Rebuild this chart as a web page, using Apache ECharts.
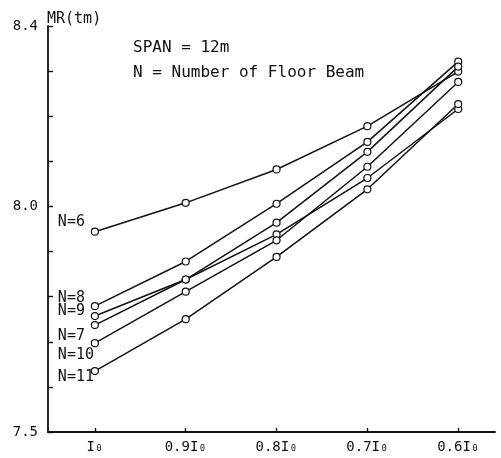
<!DOCTYPE html>
<html>
<head>
<meta charset="utf-8">
<script src="https://cdn.jsdelivr.net/npm/echarts@6/dist/echarts.min.js"></script>
<style>
html,body{margin:0;padding:0;background:#fff;}
#c{width:501px;height:458px;}
</style>
</head>
<body>
<div id="c"></div>
<script>
// ---- data ----
const categories = ['I₀', '0.9I₀', '0.8I₀', '0.7I₀', '0.6I₀'];
const xValues = [1.0, 0.9, 0.8, 0.7, 0.6];
const yShownLabels = ['7.5', '8.0', '8.4'];
const seriesNames = ['N=6', 'N=8', 'N=9', 'N=7', 'N=10', 'N=11'];
const n6  = [7.944, 8.008, 8.082, 8.178, 8.299];
const n8  = [7.779, 7.878, 8.006, 8.143, 8.321];
const n9  = [7.757, 7.838, 7.964, 8.121, 8.310];
const n7  = [7.737, 7.838, 7.938, 8.063, 8.216];
const n10 = [7.697, 7.811, 7.925, 8.088, 8.276];
const n11 = [7.635, 7.750, 7.888, 8.038, 8.227];
const allSeries = [n6, n8, n9, n7, n10, n11];

// label offsets (styling): [dx, dy] from first point
const labelOffsets = [[-37, -10], [-37, -8], [-37, -5], [-37, 11], [-37, 12], [-37, 6]];

const FONT = 'DejaVu Sans Mono';
const INK = '#111';

const chart = echarts.init(document.getElementById('c'), null, {renderer: 'canvas'});

const series = allSeries.map((vals, si) => ({
  type: 'line',
  name: seriesNames[si],
  data: vals.map((v, i) => {
    const item = {value: [xValues[i], v]};
    if (i === 0) {
      item.label = {
        show: true,
        position: 'inside',
        align: 'left',
        verticalAlign: 'middle',
        offset: labelOffsets[si],
        formatter: seriesNames[si],
        color: INK,
        fontFamily: FONT,
        fontSize: 15
      };
    }
    return item;
  }),
  symbol: 'circle',
  symbolSize: 7,
  showAllSymbol: true,
  lineStyle: {color: INK, width: 1.5},
  itemStyle: {color: '#fff', borderColor: INK, borderWidth: 1.2},
  label: {show: false},
  emphasis: {disabled: true},
  z: 2
}));

chart.setOption({
  animation: false,
  backgroundColor: '#fff',
  grid: {left: 48, right: 6, top: 26, bottom: 26, containLabel: false},
  xAxis: {
    type: 'value',
    inverse: true,
    min: 0.5595,
    max: 1.0516,
    axisLine: {show: true, onZero: false, lineStyle: {color: INK, width: 1.8}},
    axisTick: {show: true, inside: true, length: 4, customValues: xValues, lineStyle: {color: INK, width: 1.4}},
    axisLabel: {
      show: true,
      customValues: xValues,
      margin: 8,
      color: INK,
      fontFamily: FONT,
      fontSize: 14,
      formatter: function (v) {
        let best = 0;
        xValues.forEach((x, i) => { if (Math.abs(x - v) < Math.abs(xValues[best] - v)) best = i; });
        return categories[best];
      }
    },
    splitLine: {show: false}
  },
  yAxis: {
    type: 'value',
    min: 7.5,
    max: 8.4,
    interval: 0.1,
    axisLine: {show: true, onZero: false, lineStyle: {color: INK, width: 1.8}},
    axisTick: {show: true, inside: true, length: 5, lineStyle: {color: INK, width: 1.4}},
    axisLabel: {
      show: true,
      margin: 10,
      color: INK,
      fontFamily: FONT,
      fontSize: 14,
      formatter: function (v) {
        const s = v.toFixed(1);
        return yShownLabels.indexOf(s) >= 0 ? s : '';
      }
    },
    splitLine: {show: false}
  },
  graphic: [
    {type: 'text', left: 47, top: 12, style: {text: 'MR(tm)', fill: INK, font: '15px "DejaVu Sans Mono"'}},
    {type: 'text', left: 133, top: 40, style: {text: 'SPAN = 12m', fill: INK, font: '16px "DejaVu Sans Mono"'}},
    {type: 'text', left: 133, top: 65, style: {text: 'N = Number of Floor Beam', fill: INK, font: '16px "DejaVu Sans Mono"'}}
  ],
  series: series
});
</script>
</body>
</html>
